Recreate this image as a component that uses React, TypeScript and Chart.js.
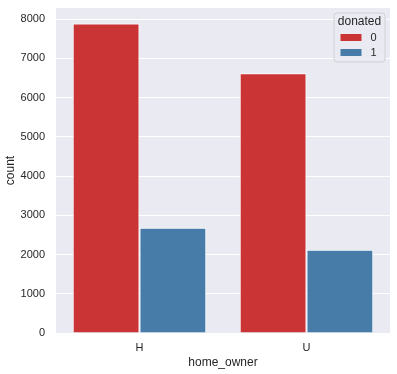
import React, { useEffect, useRef } from "react";
import { Chart, registerables } from "chart.js";

Chart.register(...registerables);

const categories = ["H", "U"];
const seriesLabels = ["0", "1"];
const donated0 = [7885, 6620];
const donated1 = [2680, 2120];
const yTicks = [0, 1000, 2000, 3000, 4000, 5000, 6000, 7000, 8000];
const legendTitle = "donated";
const xTitle = "home_owner";
const yTitle = "count";

const FONT = "'Liberation Sans', Arial, sans-serif";
const TEXT = "#262626";

const bgPlugin = {
  id: "bgPlugin",
  beforeDraw(chart: any) {
    const { ctx, chartArea } = chart;
    ctx.save();
    ctx.fillStyle = "#EAEAF2";
    ctx.fillRect(chartArea.left, chartArea.top, chartArea.right - chartArea.left, chartArea.bottom - chartArea.top);
    ctx.restore();
  },
};

const legendPlugin = {
  id: "boxLegend",
  afterDraw(chart: any) {
    const { ctx, chartArea } = chart;
    const x0 = chartArea.right - 56;
    const y0 = chartArea.top + 5;
    const w = 51;
    const h = 49;
    ctx.save();
    ctx.beginPath();
    const r = 3;
    ctx.moveTo(x0 + r, y0);
    ctx.lineTo(x0 + w - r, y0);
    ctx.quadraticCurveTo(x0 + w, y0, x0 + w, y0 + r);
    ctx.lineTo(x0 + w, y0 + h - r);
    ctx.quadraticCurveTo(x0 + w, y0 + h, x0 + w - r, y0 + h);
    ctx.lineTo(x0 + r, y0 + h);
    ctx.quadraticCurveTo(x0, y0 + h, x0, y0 + h - r);
    ctx.lineTo(x0, y0 + r);
    ctx.quadraticCurveTo(x0, y0, x0 + r, y0);
    ctx.closePath();
    ctx.fillStyle = "rgba(234,234,242,0.8)";
    ctx.fill();
    ctx.strokeStyle = "#d0d0d6";
    ctx.lineWidth = 1;
    ctx.stroke();

    ctx.fillStyle = TEXT;
    ctx.textAlign = "center";
    ctx.textBaseline = "middle";
    ctx.font = `12px ${FONT}`;
    ctx.fillText(legendTitle, x0 + w / 2, y0 + 8.5);

    ctx.font = `11px ${FONT}`;
    chart.data.datasets.forEach((ds: any, i: number) => {
      const py = y0 + 21 + i * 15;
      ctx.fillStyle = ds.backgroundColor;
      ctx.fillRect(x0 + 6.5, py, 21, 7);
      ctx.fillStyle = TEXT;
      ctx.fillText(ds.label, x0 + 39.5, py + 3.5);
    });
    ctx.restore();
  },
};

export default function App() {
  const ref = useRef<HTMLCanvasElement>(null);
  useEffect(() => {
    document.body.style.margin = "0";
    const chart = new Chart(ref.current!, {
      type: "bar",
      data: {
        labels: categories,
        datasets: [
          {
            label: seriesLabels[0],
            data: donated0,
            backgroundColor: "#CB3435",
            borderColor: "#ffffff",
            borderWidth: 1,
          },
          {
            label: seriesLabels[1],
            data: donated1,
            backgroundColor: "#477CA8",
            borderColor: "#ffffff",
            borderWidth: 1,
          },
        ],
      },
      options: {
        animation: false,
        responsive: false,
        maintainAspectRatio: false,
        layout: { padding: { top: 8, right: 7, left: 0, bottom: 0 } },
        datasets: { bar: { categoryPercentage: 0.8, barPercentage: 1.0 } },
        plugins: { legend: { display: false }, tooltip: { enabled: false } },
        scales: {
          x: {
            grid: { display: false, drawTicks: false },
            border: { display: false },
            ticks: { color: TEXT, font: { family: FONT, size: 11 }, padding: 8 },
            title: {
              display: true,
              text: xTitle,
              color: TEXT,
              font: { family: FONT, size: 12 },
              padding: { top: 0, bottom: 4 },
            },
            afterFit(scale: any) {
              scale.height = 41;
              scale.paddingLeft = 0;
              scale.paddingRight = 0;
            },
          },
          y: {
            min: 0,
            max: 8283,
            grid: { color: "#ffffff", lineWidth: 1, drawTicks: false },
            border: { display: false },
            afterBuildTicks(scale: any) {
              scale.ticks = yTicks.map((v) => ({ value: v }));
            },
            ticks: {
              color: TEXT,
              font: { family: FONT, size: 11 },
              padding: 11,
              includeBounds: false,
              callback: (v: any) => String(v),
            },
            title: {
              display: true,
              text: yTitle,
              color: TEXT,
              font: { family: FONT, size: 12 },
              padding: { top: 3, bottom: 0 },
            },
            afterFit(scale: any) {
              scale.width = 56;
              scale.paddingTop = 0;
              scale.paddingBottom = 0;
            },
          },
        },
      },
      plugins: [bgPlugin, legendPlugin],
    });
    return () => chart.destroy();
  }, []);
  return (
    <div style={{ width: 397, height: 374 }}>
      <canvas ref={ref} width={397} height={374} style={{ display: "block" }} />
    </div>
  );
}
